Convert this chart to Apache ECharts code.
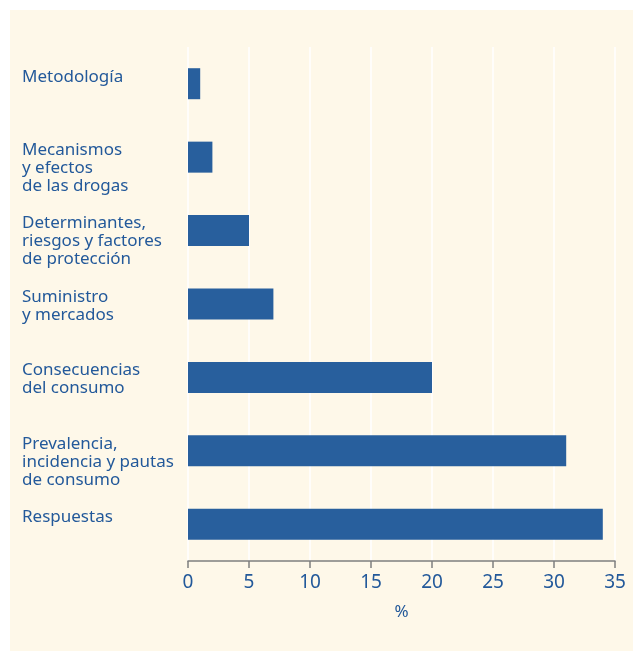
<!DOCTYPE html>
<html>
<head>
<meta charset="utf-8">
<script src="https://cdn.jsdelivr.net/npm/echarts@6/dist/echarts.min.js"></script>
<style>
  html, body { margin: 0; padding: 0; background: #ffffff; }
  #chart { position: absolute; left: 10px; top: 10px; width: 623px; height: 641px; background: #fef8e9; }
</style>
</head>
<body>
<div id="chart"></div>
<script>
// temas de investigación (de arriba a abajo)
var temas = [
  'Metodología',
  'Mecanismos\ny efectos\nde las drogas',
  'Determinantes,\nriesgos y factores\nde protección',
  'Suministro\ny mercados',
  'Consecuencias\ndel consumo',
  'Prevalencia,\nincidencia y pautas\nde consumo',
  'Respuestas'
];
var porcentajes = [1, 2, 5, 7, 20, 31, 34];
var ticks = [0, 5, 10, 15, 20, 25, 30, 35];

var azul = '#285f9d';
var texto = '#23599a';
var fuente = 'Noto Sans';

var chart = echarts.init(document.getElementById('chart'));
var option = {
  animation: false,
  textStyle: { fontFamily: fuente },
  grid: { left: 178, right: 18, top: 37, bottom: 90 },
  xAxis: {
    type: 'value',
    min: ticks[0],
    max: ticks[ticks.length - 1],
    interval: 5,
    name: '%',
    nameLocation: 'middle',
    nameGap: 43,
    nameTextStyle: { color: texto, fontSize: 17, fontFamily: fuente },
    axisLine: { show: true, lineStyle: { color: '#7f7f7f', width: 1.5 } },
    axisTick: { show: true, length: 7, lineStyle: { color: '#7f7f7f', width: 1.5 } },
    axisLabel: { color: texto, fontSize: 19, margin: 12, fontFamily: fuente },
    splitLine: { show: true, lineStyle: { color: '#ffffff', width: 1.5 } }
  },
  yAxis: {
    type: 'category',
    data: temas,
    inverse: true,
    axisLine: { show: false },
    axisTick: { show: false },
    axisLabel: {
      align: 'left',
      verticalAlign: 'top',
      margin: 166,
      color: texto,
      fontSize: 17,
      lineHeight: 18,
      padding: [-16, 0, 0, 0],
      fontFamily: fuente
    }
  },
  series: [{
    type: 'bar',
    data: porcentajes,
    barWidth: 31,
    itemStyle: { color: azul }
  }]
};
chart.setOption(option);
</script>
</body>
</html>
